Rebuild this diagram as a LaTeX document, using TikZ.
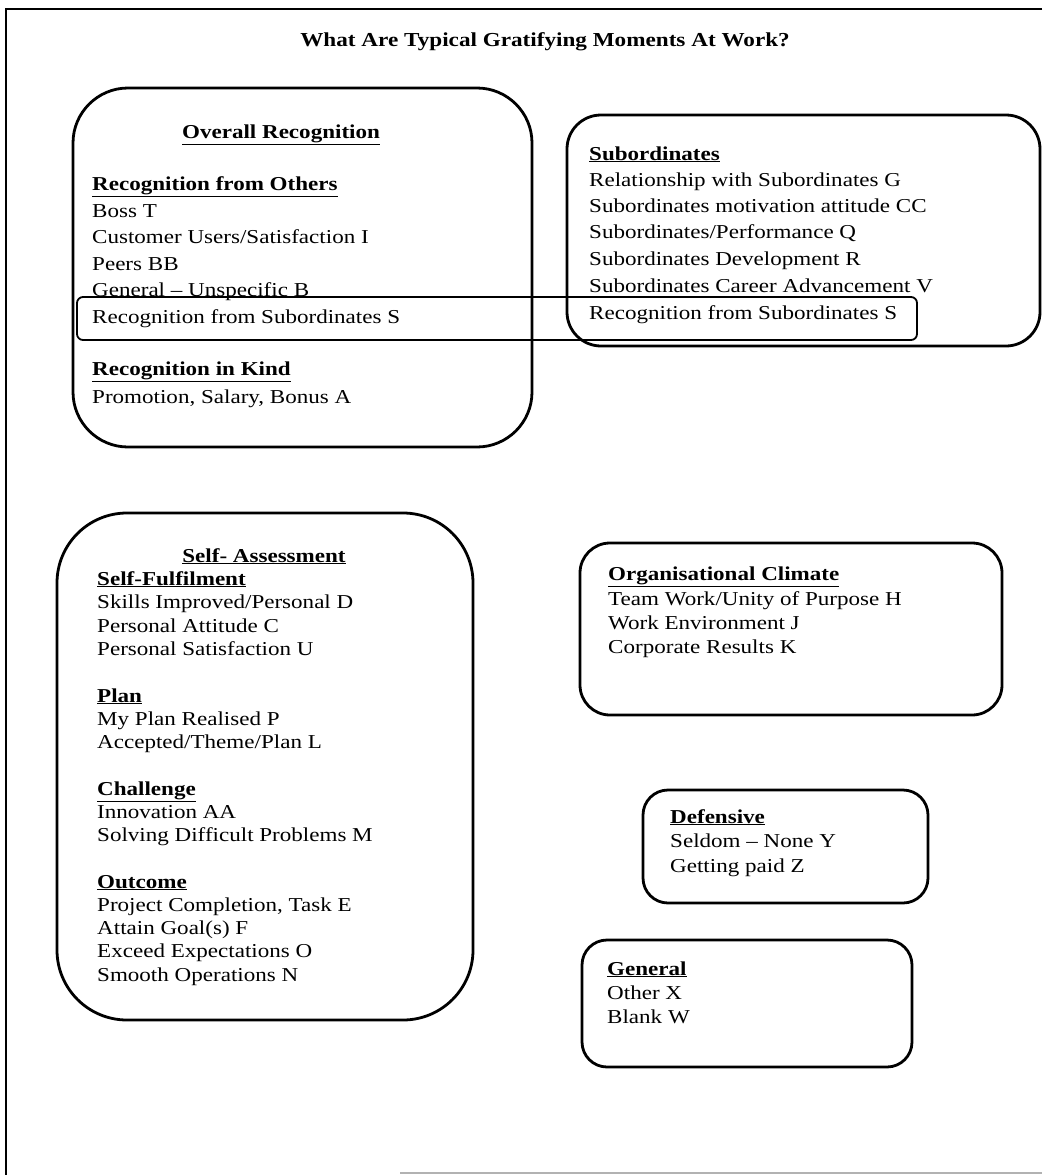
\documentclass[tikz,border=0pt]{standalone}
\usepackage{fontspec}
\setmainfont{Liberation Serif}[FakeStretch=1.17]
\begin{document}
\begin{tikzpicture}[x=1pt,y=-1pt,
  box/.style={draw, line width=2.8pt, inner sep=0pt, rectangle},
  hlbox/.style={draw, line width=1.8pt, inner sep=0pt, rectangle, rounded corners=6pt},
  txt/.style={anchor=base west, inner sep=0pt, font=\fontsize{19.7}{24}\selectfont},
  hd/.style={anchor=base west, inner sep=0pt, font=\fontsize{19.7}{24}\selectfont\bfseries},
  frame/.style={line width=1.6pt}]
\useasboundingbox (0,0) rectangle (1042,1175);
% frame
\draw[frame] (1042,9) -- (6,9) -- (6,1175);
\draw[gray!60, line width=1.6pt] (400,1173) -- (1042,1173);

% title
\node[font=\fontsize{19.8}{24}\selectfont\bfseries, anchor=base, inner sep=0pt] (title) at (545,46) {What Are Typical Gratifying Moments At Work?};

% boxes
\node[box, rounded corners=55pt, minimum width=459pt, minimum height=359pt] (b1) at (302.5,267.5) {};
\node[box, rounded corners=34pt, minimum width=473pt, minimum height=231pt] (b2) at (803.5,230.5) {};
\node[hlbox, minimum width=840pt, minimum height=43pt] (hl) at (497,318.5) {};
\node[box, rounded corners=70pt, minimum width=416pt, minimum height=507pt] (b3) at (265,766.5) {};
\node[box, rounded corners=30pt, minimum width=422pt, minimum height=172pt] (b4) at (791,629) {};
\node[box, rounded corners=25pt, minimum width=285pt, minimum height=113pt] (b5) at (785.5,846.5) {};
\node[box, rounded corners=25pt, minimum width=330pt, minimum height=127pt] (b6) at (747,1003.5) {};

% box 1 text
\node[hd, anchor=base] (b1t0) at (281,138) {\underline{Overall Recognition}};
\node[hd] (b1t1) at (92,190) {\underline{Recognition from Others}};
\node[txt] (b1t2) at (92,217) {Boss T};
\node[txt] (b1t3) at (92,243) {Customer Users/Satisfaction I};
\node[txt] (b1t4) at (92,270) {Peers BB};
\node[txt] (b1t5) at (92,296) {General – Unspecific B};
\node[txt] (b1t6) at (92,323) {Recognition from Subordinates S};
\node[hd] (b1t7) at (92,375) {\underline{Recognition in Kind}};
\node[txt] (b1t8) at (92,403) {Promotion, Salary, Bonus A};

% box 2 text
\node[hd] (b2t0) at (589,160) {\underline{Subordinates}};
\node[txt] (b2t1) at (589,186) {Relationship with Subordinates G};
\node[txt] (b2t2) at (589,212) {Subordinates motivation attitude CC};
\node[txt] (b2t3) at (589,238) {Subordinates/Performance Q};
\node[txt] (b2t4) at (589,265) {Subordinates Development R};
\node[txt] (b2t5) at (589,292) {Subordinates Career Advancement V};
\node[txt] (b2t6) at (589,319) {Recognition from Subordinates S};

% box 3 text
\node[hd, anchor=base] (b3t0) at (264,562) {\underline{Self- Assessment}};
\node[hd] (b3t1) at (97,585) {\underline{Self-Fulfilment}};
\node[txt] (b3t2) at (97,608) {Skills Improved/Personal D};
\node[txt] (b3t3) at (97,632) {Personal Attitude C};
\node[txt] (b3t4) at (97,655) {Personal Satisfaction U};
\node[hd] (b3t5) at (97,702) {\underline{Plan}};
\node[txt] (b3t6) at (97,725) {My Plan Realised P};
\node[txt] (b3t7) at (97,748) {Accepted/Theme/Plan L};
\node[hd] (b3t8) at (97,795) {\underline{Challenge}};
\node[txt] (b3t9) at (97,818) {Innovation AA};
\node[txt] (b3t10) at (97,841) {Solving Difficult Problems M};
\node[hd] (b3t11) at (97,888) {\underline{Outcome}};
\node[txt] (b3t12) at (97,911) {Project Completion, Task E};
\node[txt] (b3t13) at (97,934) {Attain Goal(s) F};
\node[txt] (b3t14) at (97,957) {Exceed Expectations O};
\node[txt] (b3t15) at (97,981) {Smooth Operations N};

% box 4 text
\node[hd] (b4t0) at (608,580) {\underline{Organisational Climate}};
\node[txt] (b4t1) at (608,605) {Team Work/Unity of Purpose H};
\node[txt] (b4t2) at (608,629) {Work Environment J};
\node[txt] (b4t3) at (608,653) {Corporate Results K};

% box 5 text
\node[hd] (b5t0) at (670,823) {\underline{Defensive}};
\node[txt] (b5t1) at (670,847) {Seldom – None Y};
\node[txt] (b5t2) at (670,872) {Getting paid Z};

% box 6 text
\node[hd] (b6t0) at (607,975) {\underline{General}};
\node[txt] (b6t1) at (607,999) {Other X};
\node[txt] (b6t2) at (607,1023) {Blank W};
\end{tikzpicture}
\end{document}
